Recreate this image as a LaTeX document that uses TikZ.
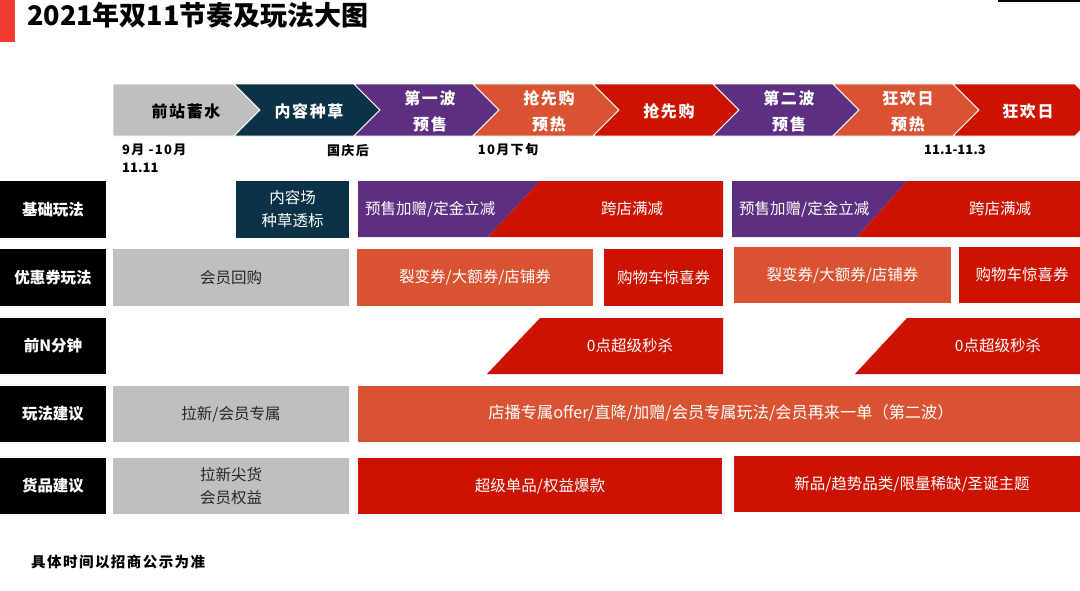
\documentclass[tikz,border=0pt]{standalone}
\usepackage{fontspec}
\setmainfont{Noto Sans CJK SC}
\newfontfamily\spaced[LetterSpace=10]{Noto Sans CJK SC}
\definecolor{cgray}{HTML}{BFBFBF}
\definecolor{cnavy}{HTML}{0B3246}
\definecolor{cpurple}{HTML}{5C2F80}
\definecolor{corange}{HTML}{D95333}
\definecolor{cred}{HTML}{CC1200}
\definecolor{cbar}{HTML}{F23A33}
\begin{document}
\begin{tikzpicture}[x=1pt,y=-1pt,
  every node/.style={inner sep=0pt},
  lbl/.style={text=white, font=\fontsize{15.5}{18}\selectfont\bfseries},
  wtxt/.style={text=white, font=\fontsize{15.5}{23}\selectfont, align=center},
  gtxt/.style={text=black!85, font=\fontsize{15.5}{23}\selectfont, align=center},
  chevw/.style={text=white, font=\spaced\fontsize{16}{26}\selectfont\bfseries, align=center},
  chevb/.style={text=black, font=\spaced\fontsize{16}{26}\selectfont\bfseries, align=center},
  datetxt/.style={text=black, font=\spaced\fontsize{13}{18}\selectfont\bfseries, align=left},
  numtxt/.style={text=black, font=\fontsize{13}{18}\selectfont\bfseries, align=left},
  sep/.style={draw=white, line width=0.8pt}
]
\useasboundingbox (0,0) rectangle (1080,590);
\fill[white] (0,0) rectangle (1080,590);

% title
\fill[cbar] (0,0) rectangle (15,42);
\draw[black, line width=1.5pt] (998,0.8) -- (1080,0.8);
\node[anchor=west, font=\fontsize{27}{30}\selectfont\bfseries] (title) at (27,15) {2021年双11节奏及玩法大图};

% chevrons
\def\ct{84}\def\cb{136}\def\cm{110}\def\cd{26}
\filldraw[cgray, sep] (113,\ct) -- (234,\ct) -- (260,\cm) -- (234,\cb) -- (113,\cb) -- cycle;
\foreach \L/\R/\col in {234/354/cnavy, 354/473/cpurple, 473/593/corange, 593/713/cred, 713/833/cpurple, 833/953/corange, 953/1075/cred}{
  \filldraw[fill=\col, sep] (\L,\ct) -- (\R,\ct) -- ({\R+\cd},\cm) -- (\R,\cb) -- (\L,\cb) -- ({\L+\cd},\cm) -- cycle;
}
\node[chevb] (c1) at (186,111) {前站蓄水};
\node[chevw] (c2) at (309,111) {内容种草};
\node[chevw] (c3) at (430,111) {第一波\\预售};
\node[chevw] (c4) at (549,111) {抢先购\\预热};
\node[chevw] (c5) at (669,111) {抢先购};
\node[chevw] (c6) at (789,111) {第二波\\预售};
\node[chevw] (c7) at (908,111) {狂欢日\\预热};
\node[chevw] (c8) at (1028,111) {狂欢日};

% dates
\node[datetxt, anchor=west] (d1) at (122,150) {9月 -10月};
\node[numtxt, anchor=west] (d1b) at (122,168) {11.11};
\node[datetxt] (d2) at (348,150) {国庆后};
\node[datetxt] (d3) at (508,150) {10月下旬};
\node[numtxt] (d4) at (955,150) {11.1-11.3};

% row labels
\fill[black] (0,181) rectangle (106,238);
\fill[black] (0,249) rectangle (106,306);
\fill[black] (0,318) rectangle (106,374);
\fill[black] (0,386) rectangle (106,442);
\fill[black] (0,458) rectangle (106,514);
\node[lbl] (r1) at (53,209.5) {基础玩法};
\node[lbl] (r2) at (53,277.5) {优惠券玩法};
\node[lbl] (r3) at (53,346) {前N分钟};
\node[lbl] (r4) at (53,414) {玩法建议};
\node[lbl] (r5) at (53,486) {货品建议};

% row 1
\fill[cnavy] (236,181) rectangle (349,238);
\node[wtxt] (b11) at (292.5,209.5) {内容场\\种草透标};
\fill[cpurple] (358,181) -- (540,181) -- (488,237) -- (358,237) -- cycle;
\fill[cred] (540,181) -- (723,181) -- (723,237) -- (488,237) -- cycle;
\node[wtxt, anchor=west] (b12) at (365,209) {预售加赠/定金立减};
\node[wtxt] (b13) at (632,209) {跨店满减};
\fill[cpurple] (732,181) -- (907,181) -- (857,237) -- (732,237) -- cycle;
\fill[cred] (907,181) -- (1080,181) -- (1080,237) -- (857,237) -- cycle;
\node[wtxt, anchor=west] (b14) at (739,209) {预售加赠/定金立减};
\node[wtxt] (b15) at (1000,209) {跨店满减};

% row 2
\fill[cgray] (113,249) rectangle (349,306);
\node[gtxt] (b21) at (231,277.5) {会员回购};
\fill[corange] (357,249) rectangle (593,306);
\node[wtxt] (b22) at (475,277.5) {裂变券/大额券/店铺券};
\fill[cred] (604,249) rectangle (723,306);
\node[wtxt] (b23) at (663.5,277.5) {购物车惊喜券};
\fill[corange] (734,247) rectangle (951,303);
\node[wtxt] (b24) at (842.5,275) {裂变券/大额券/店铺券};
\fill[cred] (959,247) rectangle (1080,303);
\node[wtxt] (b25) at (1022,275) {购物车惊喜券};

% row 3
\fill[cred] (540,318) -- (723,318) -- (723,374) -- (487,374) -- cycle;
\node[wtxt] (b31) at (630,346) {0点超级秒杀};
\fill[cred] (907,318) -- (1080,318) -- (1080,374) -- (855,374) -- cycle;
\node[wtxt] (b32) at (998,346) {0点超级秒杀};

% row 4
\fill[cgray] (113,386) rectangle (349,442);
\node[gtxt] (b41) at (231,414) {拉新/会员专属};
\fill[corange] (358,386) rectangle (1080,442);
\node[wtxt, font=\fontsize{16.2}{20}\selectfont] (b42) at (721,413) {店播专属offer/直降/加赠/会员专属玩法/会员再来一单（第二波）};

% row 5
\fill[cgray] (113,458) rectangle (349,514);
\node[gtxt] (b51) at (231,486) {拉新尖货\\会员权益};
\fill[cred] (358,458) rectangle (722,514);
\node[wtxt] (b52) at (540,486) {超级单品/权益爆款};
\fill[cred] (734,456) rectangle (1080,512);
\node[wtxt] (b53) at (912,484) {新品/趋势品类/限量稀缺/圣诞主题};

% footer
\node[anchor=west, font=\spaced\fontsize{14.5}{16}\selectfont\bfseries] (foot) at (31,562) {具体时间以招商公示为准};
\end{tikzpicture}
\end{document}
